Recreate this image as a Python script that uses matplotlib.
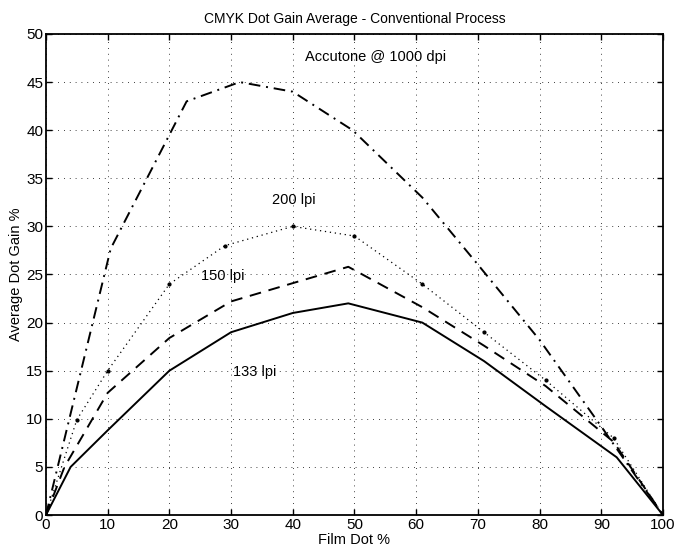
import matplotlib
matplotlib.use("Agg")
import matplotlib.pyplot as plt

plt.rcParams['font.family'] = ['Liberation Sans', 'DejaVu Sans']

x_133 = [0, 4, 10, 20, 30, 40, 49, 61, 71, 81, 92.5, 100]
y_133 = [0, 5, 8.8, 15, 19, 21, 22, 20, 16, 11.3, 6, 0]

x_150 = [0, 3, 10, 20, 30, 40, 49, 61, 71, 81, 92, 100]
y_150 = [0, 5, 12.7, 18.4, 22.2, 24.1, 25.8, 21.6, 17.6, 13.4, 7.6, 0]

x_200 = [0, 5, 10, 20, 29, 40, 50, 61, 71, 81, 92, 100]
y_200 = [0, 9.9, 15, 24, 28, 30, 29, 24, 19, 14, 8, 0]

x_acc = [0, 10.5, 22.8, 31.4, 40, 49.7, 61, 70.3, 80, 90, 100]
y_acc = [0, 27.7, 43, 45, 44, 40, 33, 25.8, 18.2, 9.2, 0]

x_ticks = [0, 10, 20, 30, 40, 50, 60, 70, 80, 90, 100]
y_ticks = [0, 5, 10, 15, 20, 25, 30, 35, 40, 45, 50]

labels = ["133 lpi", "150 lpi", "200 lpi", "Accutone @ 1000 dpi"]
label_x = [30.3, 25.2, 36.6, 42]
label_y = [14.9, 24.8, 32.7, 47.6]

fig = plt.figure(figsize=(6.81, 5.59), dpi=100)
ax = fig.add_axes([0.0675, 0.0787, 0.906, 0.8605])

ax.plot(x_133, y_133, color='black', lw=1.4, ls='-')
ax.plot(x_150, y_150, color='black', lw=1.4, ls=(0, (6, 4)))
ax.plot(x_200, y_200, color='black', lw=0.9, ls=(0, (1, 3)), marker='.', ms=4)
ax.plot(x_acc, y_acc, color='black', lw=1.4, ls=(0, (6, 3, 1, 3)))

for t, tx, ty in zip(labels, label_x, label_y):
    ax.text(tx, ty, t, fontsize=10.5, va='center', ha='left')

ax.set_xlim(0, 100)
ax.set_ylim(0, 50)
ax.set_xticks(x_ticks)
ax.set_yticks(y_ticks)
ax.tick_params(direction='in', top=True, right=True, labelsize=11, length=4, width=1.0, pad=2)
ax.grid(True, color='black', ls=(0, (1, 6)), lw=0.6)
for s in ax.spines.values():
    s.set_linewidth(1.3)

ax.set_title("CMYK Dot Gain Average - Conventional Process", fontsize=10, pad=8)
ax.set_xlabel("Film Dot %", fontsize=10.5, labelpad=1)
ax.set_ylabel("Average Dot Gain %", fontsize=10.5, labelpad=2)

fig.savefig("out.png", dpi=100)
